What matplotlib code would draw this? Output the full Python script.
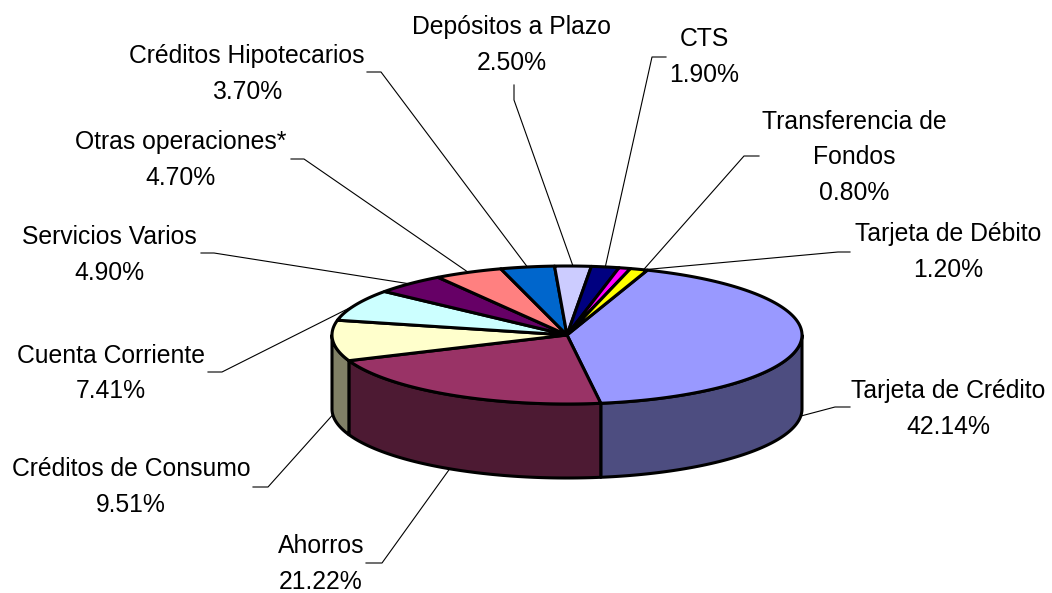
import numpy as np
import matplotlib
matplotlib.use("Agg")
import matplotlib.pyplot as plt
from matplotlib.patches import Polygon

plt.rcParams['font.family'] = ['Liberation Sans', 'DejaVu Sans']

# Slices, clockwise from the start angle
labels = ["Tarjeta de Crédito", "Ahorros", "Créditos de Consumo", "Cuenta Corriente",
          "Servicios Varios", "Otras operaciones*", "Créditos Hipotecarios",
          "Depósitos a Plazo", "CTS", "Transferencia de\nFondos", "Tarjeta de Débito"]
values = [42.14, 21.22, 9.51, 7.41, 4.90, 4.70, 3.70, 2.50, 1.90, 0.80, 1.20]
colors = ["#9999FF", "#993366", "#FFFFCC", "#CCFFFF", "#660066", "#FF8080",
          "#0066CC", "#CCCCFF", "#000080", "#FF00FF", "#FFFF00"]

# Where the labels sit (centre of text, then end of the leader elbow)
label_pos = [(948, 409), (321, 564), (131, 487), (111, 373.5), (109, 255), (181, 160),
             (247, 74), (512, 45), (704, 57), (854, 157.5), (948, 252)]
elbows = [[(835, 407), (850, 407)], [(382, 563), (366, 563)], [(268, 487), (253, 487)],
          [(222, 372), (208, 372)], [(214, 253), (201, 253)], [(304, 159), (291, 159)],
          [(381, 72), (367, 72)], [(514, 100), (514, 85)], [(652, 57), (666, 57)],
          [(744, 156), (759, 156)], [(838, 252), (850, 252)]]
# The two thinnest slices have their leaders pushed over to the same spot
leader_angle = {9: 71, 10: 71}

# Pie geometry in pixels
cx, cy = 567, 335
rx, ry = 235, 69
depth = 74
start = 70.0


def ellipse(t):
    t = np.radians(t)
    return cx + rx * np.cos(t), cy - ry * np.sin(t)


def darken(c):
    rgb = np.array(matplotlib.colors.to_rgb(c))
    return tuple(rgb * 0.5)


fig = plt.figure(figsize=(10.52, 5.93), dpi=100)
ax = fig.add_axes([0, 0, 1, 1])
ax.set_xlim(0, 1052)
ax.set_ylim(593, 0)
ax.axis("off")

# Angles of the slices
angles = start - np.cumsum([0] + values) / sum(values) * 360

# Side walls, only the front half of the pie shows
for i in range(len(values)):
    t1, t0 = angles[i], angles[i + 1]
    a = max(t0, -180)
    b = min(t1, 0)
    if a >= b:
        continue
    t = np.linspace(a, b, 80)
    x, y = ellipse(t)
    xs = np.concatenate([x, x[::-1]])
    ys = np.concatenate([y, y[::-1] + depth])
    ax.add_patch(Polygon(np.column_stack([xs, ys]), closed=True, fc=darken(colors[i]),
                         ec="black", lw=2.2, joinstyle="round", zorder=2))

# Top faces
for i in range(len(values)):
    t = np.linspace(angles[i + 1], angles[i], 120)
    x, y = ellipse(t)
    xs = np.concatenate([[cx], x])
    ys = np.concatenate([[cy], y])
    ax.add_patch(Polygon(np.column_stack([xs, ys]), closed=True, fc=colors[i],
                         ec="black", lw=2.2, joinstyle="round", zorder=3))

# Leader lines and labels
for i in range(len(values)):
    mid = leader_angle.get(i, (angles[i] + angles[i + 1]) / 2)
    x0, y0 = ellipse(mid)
    if np.sin(np.radians(mid)) < 0:
        y0 += depth
    xs = [x0] + [p[0] for p in elbows[i]]
    ys = [y0] + [p[1] for p in elbows[i]]
    ax.plot(xs, ys, color="black", lw=0.8, zorder=1)
    ax.text(label_pos[i][0], label_pos[i][1], "%s\n%.2f%%" % (labels[i], values[i]),
            ha="center", va="center", fontsize=17.8, linespacing=1.58, color="black")

fig.savefig("out.png", dpi=100)
